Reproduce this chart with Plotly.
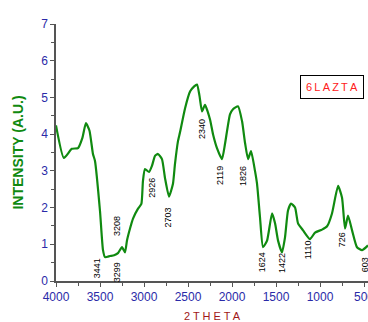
import plotly.graph_objects as go

wavenumber = [4000, 3910, 3820, 3750, 3700, 3660, 3620, 3580, 3557, 3500, 3466, 3443, 3386, 3340, 3296,
              3250, 3216, 3193, 3159, 3125, 3068, 3030, 3012, 2989, 2943, 2909, 2875, 2841, 2796,
              2762, 2716, 2671, 2648, 2614, 2591, 2534, 2477, 2430, 2398, 2370, 2341, 2307, 2250, 2216,
              2171, 2114, 2080, 2023, 1989, 1932, 1886, 1852, 1818, 1784, 1739, 1716, 1682, 1648,
              1602, 1545, 1511, 1477, 1432, 1398, 1364, 1330, 1284, 1250, 1193, 1114, 1057, 977,
              920, 864, 795, 750, 716, 682, 636, 580, 523, 455]
intensity = [4.24, 3.35, 3.6, 3.62, 3.9, 4.3, 4.1, 3.46, 3.27, 1.9, 0.84, 0.65, 0.68, 0.7, 0.76,
             0.92, 0.78, 1.11, 1.43, 1.7, 1.97, 2.1, 2.73, 3.05, 2.97, 3.14, 3.41, 3.46, 3.32,
             2.81, 2.3, 2.65, 3.19, 3.81, 4.05, 4.7, 5.16, 5.3, 5.35, 5.05, 4.62, 4.8, 4.4, 4.0,
             3.62, 3.32, 3.73, 4.54, 4.68, 4.76, 4.35, 3.76, 3.32, 3.54, 3.0, 2.65, 1.73, 0.92,
             1.1, 1.84, 1.57, 1.1, 0.78, 1.19, 1.92, 2.11, 2.0, 1.57, 1.38, 1.14, 1.32, 1.4,
             1.49, 1.84, 2.59, 2.27, 1.43, 1.78, 1.38, 0.92, 0.84, 0.97]

peak_labels = ["3441", "3299", "3208", "2926", "2703", "2340", "2119", "1826", "1624", "1422", "1110", "726", "603"]
peak_label_x = [3534, 3307, 3307, 2909, 2727, 2341, 2136, 1875, 1659, 1432, 1136, 750, 489]
peak_label_y = [0.35, 0.24, 1.5, 2.54, 1.73, 4.14, 2.86, 2.86, 0.51, 0.49, 0.84, 1.11, 0.43]

sample_name = "6LAZTA"

fig = go.Figure()
fig.add_trace(go.Scatter(x=wavenumber, y=intensity, mode="lines",
                         line=dict(color="#108a10", width=2.2, shape="spline", smoothing=0.5),
                         showlegend=False, hoverinfo="skip", cliponaxis=False))

for t, xx, yy in zip(peak_labels, peak_label_x, peak_label_y):
    fig.add_annotation(x=xx, y=yy, xref="x", yref="y", text=t, showarrow=False,
                       textangle=-90, font=dict(family="Liberation Sans, Arial", size=9, color="black"))

fig.add_annotation(x=0.885, y=0.755, xref="paper", yref="paper", xanchor="center", yanchor="middle",
                   text="\u2009".join(sample_name), showarrow=False,
                   font=dict(family="Liberation Sans, Arial", size=11, color="#ff2020"),
                   bordercolor="black", borderwidth=1, borderpad=5, bgcolor="white")

axis_font = dict(family="Liberation Sans, Arial", size=12, color="#2a2aa8")
fig.update_layout(
    width=368, height=322,
    margin=dict(l=56, r=0, t=24, b=41),
    paper_bgcolor="white", plot_bgcolor="white",
    xaxis=dict(range=[4000, 455], tickmode="array", tickvals=[4000, 3500, 3000, 2500, 2000, 1500, 1000, 500],
               ticks="outside", ticklen=4, tickcolor="#555", showline=True, linecolor="#555", linewidth=1.5,
               showgrid=False, zeroline=False, tickfont=axis_font, automargin=False,
               ticklabeloverflow="allow",
               minor=dict(ticks="outside", dtick=250, ticklen=3, tickcolor="#555"),
               title=dict(text="2 T H E T A", font=dict(family="Liberation Sans, Arial", size=11, color="#a01818"), standoff=12)),
    yaxis=dict(range=[0, 7], dtick=1, ticks="outside", ticklen=4, tickcolor="#555", showline=True,
               linecolor="#555", linewidth=1.5, showgrid=False, zeroline=False, tickfont=axis_font, automargin=False,
               minor=dict(ticks="outside", dtick=0.5, ticklen=3, tickcolor="#555"),
               title=dict(text="<b>INTENSITY (A.U.)</b>", font=dict(family="Liberation Sans, Arial", size=14, color="#108a10"), standoff=14)),
)

fig.write_html("out.html", config={"displayModeBar": False},
               post_script="document.body.style.margin='0';document.body.style.overflow='hidden';")
